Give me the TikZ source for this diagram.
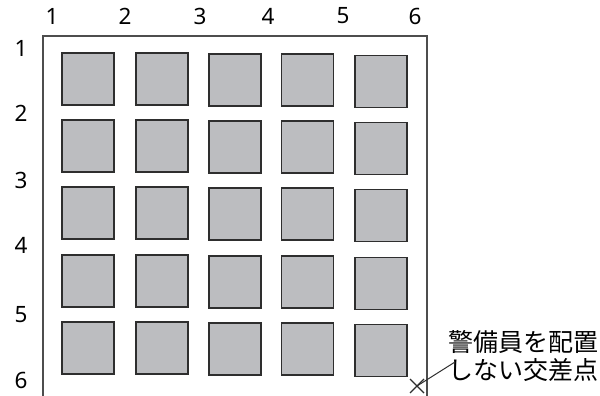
\documentclass[tikz,border=0pt]{standalone}
\usepackage{fontspec}
\usetikzlibrary{calc}
\setmainfont{Noto Sans}
\newfontfamily\cjk{Noto Sans CJK JP}
\definecolor{sqfill}{HTML}{BCBDC0}
\definecolor{edge}{HTML}{2E2E2E}
\tikzset{
  sq/.style={draw=edge, line width=1.5pt, fill=sqfill, minimum width=52pt, minimum height=52pt, inner sep=0pt},
  frame/.style={draw=edge!85, line width=1.6pt},
  lbl/.style={font=\fontsize{22.5}{26}\selectfont, text=black, inner sep=0pt},
}
\begin{document}
\begin{tikzpicture}[x=1pt,y=-1pt]
\useasboundingbox (0,0) rectangle (600,396);
% frame
\coordinate (tl) at (43,36);
\coordinate (tr) at (427,36);
\coordinate (bl) at (43,396);
\coordinate (br) at (427,396);
\draw[frame] (bl) -- (tl) -- (tr) -- (br);
% squares
\foreach \c/\x/\dy in {1/88/0,2/162/0,3/235/1,4/307.5/1,5/381/2.5}{
  \foreach \r/\y in {1/79,2/146,3/213,4/281,5/348}{
    \node[sq] (s\c\r) at (\x,\y+\dy) {};
  }
}
% column labels
\foreach \i/\x in {1/52,2/125,3/200,4/268,5/343,6/415}{
  \node[lbl] (c\i) at (\x,16) {\i};
}
% row labels
\foreach \i/\y in {1/48,2/113,3/180,4/245,5/315,6/380}{
  \node[lbl] (r\i) at (21,\y) {\i};
}
% X mark
\coordinate (xm) at (417,386);
\draw[line width=1.4pt, draw=edge] ($(xm)+(-7,-7)$) -- ($(xm)+(7,7)$);
\draw[line width=1.4pt, draw=edge] ($(xm)+(-7,7)$) -- ($(xm)+(7,-7)$);
% note
\node[font=\cjk\fontsize{25}{27.5}\selectfont, align=left, anchor=west, inner sep=0pt] (note) at (448,356) {警備員を配置\\しない交差点};
\coordinate (le) at (455,362);
\draw[line width=1pt, draw=edge] (xm) -- (le);
\end{tikzpicture}
\end{document}
